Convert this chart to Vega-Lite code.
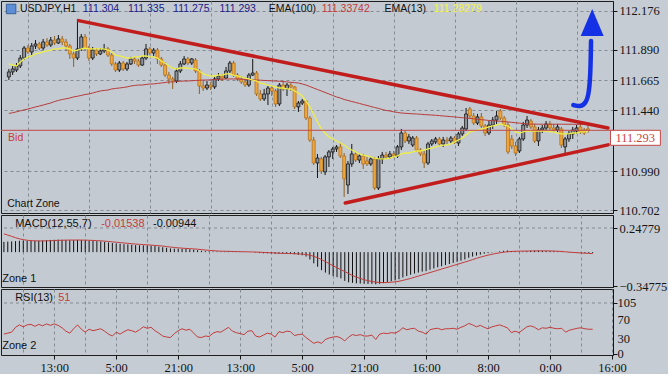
{
  "$schema": "https://vega.github.io/schema/vega-lite/v6.json",
  "padding": 0,
  "background": "#c6ccd3",
  "bounds": "flush",
  "spacing": 2,
  "config": {
    "view": {"stroke": "#1e1e1e", "strokeWidth": 1, "fill": "#c4cad1"},
    "axis": {"labelFont": "Liberation Sans Narrow", "labelFontSize": 12.5, "labelColor": "#141414", "tickColor": "#141414", "domainColor": "#141414", "gridColor": "#858b93", "gridDash": [3, 3], "gridWidth": 1, "tickSize": 4, "labelPadding": 2}
  },
  "datasets": {
    "bars": [
      {"i":0,"o":111.688,"h":111.747,"l":111.665,"c":111.725,"e13":111.784,"e100":111.418,"md":0.105,"sg":0.188,"rsi":41},
      {"i":1,"o":111.725,"h":111.769,"l":111.702,"c":111.747,"e13":111.776,"e100":111.423,"md":0.108,"sg":0.175,"rsi":43},
      {"i":2,"o":111.739,"h":111.791,"l":111.725,"c":111.769,"e13":111.769,"e100":111.430,"md":0.110,"sg":0.162,"rsi":45},
      {"i":3,"o":111.769,"h":111.850,"l":111.754,"c":111.828,"e13":111.799,"e100":111.437,"md":0.113,"sg":0.148,"rsi":55},
      {"i":4,"o":111.828,"h":111.917,"l":111.813,"c":111.902,"e13":111.821,"e100":111.444,"md":0.117,"sg":0.137,"rsi":60},
      {"i":5,"o":111.902,"h":111.924,"l":111.858,"c":111.873,"e13":111.836,"e100":111.451,"md":0.118,"sg":0.128,"rsi":56},
      {"i":6,"o":111.873,"h":111.939,"l":111.850,"c":111.917,"e13":111.843,"e100":111.458,"md":0.118,"sg":0.122,"rsi":60},
      {"i":7,"o":111.917,"h":111.961,"l":111.895,"c":111.932,"e13":111.858,"e100":111.466,"md":0.118,"sg":0.118,"rsi":61},
      {"i":8,"o":111.932,"h":111.947,"l":111.887,"c":111.902,"e13":111.865,"e100":111.473,"md":0.117,"sg":0.116,"rsi":57},
      {"i":9,"o":111.902,"h":111.969,"l":111.887,"c":111.947,"e13":111.873,"e100":111.480,"md":0.118,"sg":0.115,"rsi":61},
      {"i":10,"o":111.947,"h":111.976,"l":111.910,"c":111.924,"e13":111.880,"e100":111.488,"md":0.120,"sg":0.115,"rsi":58},
      {"i":11,"o":111.924,"h":111.984,"l":111.910,"c":111.961,"e13":111.887,"e100":111.495,"md":0.122,"sg":0.116,"rsi":62},
      {"i":12,"o":111.961,"h":111.991,"l":111.924,"c":111.939,"e13":111.895,"e100":111.506,"md":0.125,"sg":0.117,"rsi":59},
      {"i":13,"o":111.939,"h":111.998,"l":111.932,"c":111.969,"e13":111.895,"e100":111.514,"md":0.127,"sg":0.119,"rsi":62},
      {"i":14,"o":111.969,"h":111.991,"l":111.924,"c":111.947,"e13":111.902,"e100":111.521,"md":0.128,"sg":0.121,"rsi":59},
      {"i":15,"o":111.947,"h":111.969,"l":111.880,"c":111.917,"e13":111.902,"e100":111.526,"md":0.127,"sg":0.122,"rsi":54},
      {"i":16,"o":111.917,"h":111.932,"l":111.821,"c":111.858,"e13":111.895,"e100":111.532,"md":0.125,"sg":0.123,"rsi":47},
      {"i":17,"o":111.858,"h":111.887,"l":111.762,"c":111.828,"e13":111.880,"e100":111.540,"md":0.122,"sg":0.124,"rsi":43},
      {"i":18,"o":111.828,"h":112.117,"l":111.813,"c":111.895,"e13":111.887,"e100":111.545,"md":0.123,"sg":0.124,"rsi":52},
      {"i":19,"o":111.895,"h":112.006,"l":111.880,"c":111.984,"e13":111.895,"e100":111.551,"md":0.126,"sg":0.124,"rsi":60},
      {"i":20,"o":111.984,"h":112.006,"l":111.880,"c":111.902,"e13":111.902,"e100":111.558,"md":0.124,"sg":0.124,"rsi":51},
      {"i":21,"o":111.902,"h":111.917,"l":111.806,"c":111.828,"e13":111.895,"e100":111.562,"md":0.120,"sg":0.123,"rsi":45},
      {"i":22,"o":111.828,"h":111.910,"l":111.813,"c":111.887,"e13":111.895,"e100":111.569,"md":0.118,"sg":0.122,"rsi":51},
      {"i":23,"o":111.887,"h":111.902,"l":111.843,"c":111.858,"e13":111.895,"e100":111.577,"md":0.115,"sg":0.120,"rsi":48},
      {"i":24,"o":111.858,"h":111.902,"l":111.850,"c":111.880,"e13":111.895,"e100":111.584,"md":0.112,"sg":0.118,"rsi":50},
      {"i":25,"o":111.880,"h":111.932,"l":111.865,"c":111.895,"e13":111.895,"e100":111.588,"md":0.110,"sg":0.116,"rsi":52},
      {"i":26,"o":111.895,"h":111.910,"l":111.836,"c":111.850,"e13":111.887,"e100":111.591,"md":0.106,"sg":0.113,"rsi":47},
      {"i":27,"o":111.850,"h":111.865,"l":111.769,"c":111.784,"e13":111.873,"e100":111.599,"md":0.100,"sg":0.110,"rsi":41},
      {"i":28,"o":111.784,"h":111.799,"l":111.725,"c":111.739,"e13":111.850,"e100":111.603,"md":0.094,"sg":0.106,"rsi":37},
      {"i":29,"o":111.739,"h":111.806,"l":111.725,"c":111.791,"e13":111.843,"e100":111.606,"md":0.090,"sg":0.102,"rsi":45},
      {"i":30,"o":111.791,"h":111.806,"l":111.732,"c":111.747,"e13":111.836,"e100":111.610,"md":0.086,"sg":0.098,"rsi":41},
      {"i":31,"o":111.747,"h":111.799,"l":111.732,"c":111.784,"e13":111.828,"e100":111.614,"md":0.082,"sg":0.094,"rsi":46},
      {"i":32,"o":111.784,"h":111.836,"l":111.776,"c":111.821,"e13":111.828,"e100":111.621,"md":0.079,"sg":0.090,"rsi":50},
      {"i":33,"o":111.821,"h":111.836,"l":111.784,"c":111.806,"e13":111.836,"e100":111.625,"md":0.076,"sg":0.086,"rsi":48},
      {"i":34,"o":111.806,"h":111.821,"l":111.762,"c":111.776,"e13":111.836,"e100":111.628,"md":0.072,"sg":0.083,"rsi":45},
      {"i":35,"o":111.776,"h":111.843,"l":111.769,"c":111.828,"e13":111.843,"e100":111.628,"md":0.070,"sg":0.080,"rsi":50},
      {"i":36,"o":111.828,"h":111.932,"l":111.813,"c":111.895,"e13":111.843,"e100":111.632,"md":0.070,"sg":0.077,"rsi":56},
      {"i":37,"o":111.895,"h":111.910,"l":111.850,"c":111.865,"e13":111.836,"e100":111.636,"md":0.068,"sg":0.075,"rsi":53},
      {"i":38,"o":111.865,"h":111.902,"l":111.843,"c":111.887,"e13":111.836,"e100":111.636,"md":0.066,"sg":0.072,"rsi":55},
      {"i":39,"o":111.887,"h":111.902,"l":111.784,"c":111.821,"e13":111.828,"e100":111.640,"md":0.062,"sg":0.069,"rsi":48},
      {"i":40,"o":111.821,"h":111.836,"l":111.762,"c":111.776,"e13":111.806,"e100":111.643,"md":0.057,"sg":0.066,"rsi":43},
      {"i":41,"o":111.776,"h":111.799,"l":111.688,"c":111.702,"e13":111.791,"e100":111.647,"md":0.050,"sg":0.062,"rsi":37},
      {"i":42,"o":111.702,"h":111.725,"l":111.636,"c":111.673,"e13":111.769,"e100":111.651,"md":0.044,"sg":0.057,"rsi":35},
      {"i":43,"o":111.673,"h":111.688,"l":111.599,"c":111.658,"e13":111.754,"e100":111.651,"md":0.038,"sg":0.052,"rsi":34},
      {"i":44,"o":111.658,"h":111.754,"l":111.643,"c":111.732,"e13":111.747,"e100":111.654,"md":0.036,"sg":0.048,"rsi":42},
      {"i":45,"o":111.732,"h":111.806,"l":111.717,"c":111.784,"e13":111.754,"e100":111.656,"md":0.035,"sg":0.044,"rsi":48},
      {"i":46,"o":111.784,"h":111.843,"l":111.776,"c":111.821,"e13":111.754,"e100":111.658,"md":0.034,"sg":0.041,"rsi":52},
      {"i":47,"o":111.821,"h":111.836,"l":111.776,"c":111.791,"e13":111.754,"e100":111.658,"md":0.032,"sg":0.038,"rsi":49},
      {"i":48,"o":111.791,"h":111.828,"l":111.776,"c":111.821,"e13":111.747,"e100":111.660,"md":0.030,"sg":0.036,"rsi":51},
      {"i":49,"o":111.813,"h":111.828,"l":111.717,"c":111.732,"e13":111.747,"e100":111.662,"md":0.026,"sg":0.033,"rsi":43},
      {"i":50,"o":111.732,"h":111.747,"l":111.562,"c":111.621,"e13":111.732,"e100":111.663,"md":0.020,"sg":0.030,"rsi":35},
      {"i":51,"o":111.621,"h":111.658,"l":111.584,"c":111.606,"e13":111.710,"e100":111.665,"md":0.014,"sg":0.026,"rsi":34},
      {"i":52,"o":111.606,"h":111.658,"l":111.591,"c":111.628,"e13":111.702,"e100":111.665,"md":0.010,"sg":0.022,"rsi":37},
      {"i":53,"o":111.628,"h":111.651,"l":111.591,"c":111.614,"e13":111.695,"e100":111.667,"md":0.007,"sg":0.018,"rsi":36},
      {"i":54,"o":111.614,"h":111.688,"l":111.599,"c":111.673,"e13":111.695,"e100":111.668,"md":0.006,"sg":0.015,"rsi":43},
      {"i":55,"o":111.673,"h":111.717,"l":111.658,"c":111.695,"e13":111.702,"e100":111.670,"md":0.006,"sg":0.012,"rsi":46},
      {"i":56,"o":111.695,"h":111.710,"l":111.658,"c":111.680,"e13":111.702,"e100":111.671,"md":0.005,"sg":0.010,"rsi":45},
      {"i":57,"o":111.680,"h":111.762,"l":111.673,"c":111.732,"e13":111.710,"e100":111.673,"md":0.006,"sg":0.009,"rsi":50},
      {"i":58,"o":111.732,"h":111.806,"l":111.717,"c":111.791,"e13":111.710,"e100":111.673,"md":0.008,"sg":0.008,"rsi":55},
      {"i":59,"o":111.791,"h":111.806,"l":111.688,"c":111.702,"e13":111.702,"e100":111.673,"md":0.006,"sg":0.007,"rsi":47},
      {"i":60,"o":111.702,"h":111.717,"l":111.658,"c":111.673,"e13":111.695,"e100":111.673,"md":0.004,"sg":0.006,"rsi":44},
      {"i":61,"o":111.673,"h":111.695,"l":111.636,"c":111.651,"e13":111.688,"e100":111.671,"md":0.002,"sg":0.005,"rsi":42},
      {"i":62,"o":111.651,"h":111.680,"l":111.614,"c":111.628,"e13":111.680,"e100":111.670,"md":0.000,"sg":0.004,"rsi":40},
      {"i":63,"o":111.628,"h":111.717,"l":111.614,"c":111.702,"e13":111.673,"e100":111.668,"md":0.000,"sg":0.003,"rsi":47},
      {"i":64,"o":111.702,"h":111.821,"l":111.695,"c":111.717,"e13":111.665,"e100":111.667,"md":0.000,"sg":0.002,"rsi":48},
      {"i":65,"o":111.717,"h":111.732,"l":111.547,"c":111.562,"e13":111.658,"e100":111.665,"md":-0.005,"sg":0.001,"rsi":37},
      {"i":66,"o":111.562,"h":111.591,"l":111.510,"c":111.525,"e13":111.643,"e100":111.664,"md":-0.010,"sg":-0.001,"rsi":35},
      {"i":67,"o":111.525,"h":111.599,"l":111.510,"c":111.562,"e13":111.636,"e100":111.662,"md":-0.012,"sg":-0.003,"rsi":39},
      {"i":68,"o":111.562,"h":111.621,"l":111.480,"c":111.606,"e13":111.628,"e100":111.661,"md":-0.012,"sg":-0.005,"rsi":43},
      {"i":69,"o":111.606,"h":111.621,"l":111.547,"c":111.584,"e13":111.621,"e100":111.659,"md":-0.013,"sg":-0.007,"rsi":41},
      {"i":70,"o":111.584,"h":111.599,"l":111.466,"c":111.488,"e13":111.614,"e100":111.658,"md":-0.018,"sg":-0.009,"rsi":35},
      {"i":71,"o":111.488,"h":111.643,"l":111.473,"c":111.628,"e13":111.606,"e100":111.656,"md":-0.016,"sg":-0.011,"rsi":46},
      {"i":72,"o":111.628,"h":111.658,"l":111.584,"c":111.599,"e13":111.606,"e100":111.654,"md":-0.016,"sg":-0.013,"rsi":44},
      {"i":73,"o":111.599,"h":111.643,"l":111.547,"c":111.628,"e13":111.599,"e100":111.651,"md":-0.015,"sg":-0.014,"rsi":47},
      {"i":74,"o":111.628,"h":111.643,"l":111.584,"c":111.614,"e13":111.599,"e100":111.648,"md":-0.015,"sg":-0.015,"rsi":46},
      {"i":75,"o":111.614,"h":111.621,"l":111.451,"c":111.466,"e13":111.584,"e100":111.646,"md":-0.022,"sg":-0.016,"rsi":38},
      {"i":76,"o":111.466,"h":111.510,"l":111.429,"c":111.495,"e13":111.569,"e100":111.643,"md":-0.028,"sg":-0.018,"rsi":40},
      {"i":77,"o":111.495,"h":111.525,"l":111.480,"c":111.510,"e13":111.547,"e100":111.636,"md":-0.032,"sg":-0.020,"rsi":41},
      {"i":78,"o":111.510,"h":111.517,"l":111.369,"c":111.384,"e13":111.510,"e100":111.628,"md":-0.045,"sg":-0.024,"rsi":34},
      {"i":79,"o":111.384,"h":111.399,"l":111.207,"c":111.221,"e13":111.466,"e100":111.617,"md":-0.075,"sg":-0.031,"rsi":28},
      {"i":80,"o":111.221,"h":111.244,"l":111.036,"c":111.051,"e13":111.414,"e100":111.606,"md":-0.115,"sg":-0.043,"rsi":22},
      {"i":81,"o":111.051,"h":111.118,"l":110.940,"c":111.088,"e13":111.355,"e100":111.595,"md":-0.150,"sg":-0.058,"rsi":25},
      {"i":82,"o":111.081,"h":111.096,"l":110.970,"c":110.992,"e13":111.303,"e100":111.584,"md":-0.185,"sg":-0.076,"rsi":22},
      {"i":83,"o":110.985,"h":111.110,"l":110.962,"c":111.096,"e13":111.273,"e100":111.573,"md":-0.210,"sg":-0.097,"rsi":30},
      {"i":84,"o":111.096,"h":111.147,"l":111.022,"c":111.133,"e13":111.244,"e100":111.562,"md":-0.230,"sg":-0.118,"rsi":33},
      {"i":85,"o":111.133,"h":111.170,"l":111.081,"c":111.155,"e13":111.229,"e100":111.551,"md":-0.245,"sg":-0.140,"rsi":35},
      {"i":86,"o":111.155,"h":111.184,"l":111.133,"c":111.170,"e13":111.214,"e100":111.540,"md":-0.257,"sg":-0.160,"rsi":36},
      {"i":87,"o":111.170,"h":111.199,"l":111.088,"c":111.103,"e13":111.199,"e100":111.532,"md":-0.270,"sg":-0.180,"rsi":33},
      {"i":88,"o":111.103,"h":111.125,"l":110.800,"c":110.933,"e13":111.184,"e100":111.521,"md":-0.295,"sg":-0.200,"rsi":27},
      {"i":89,"o":110.888,"h":111.066,"l":110.822,"c":111.044,"e13":111.162,"e100":111.514,"md":-0.310,"sg":-0.220,"rsi":35},
      {"i":90,"o":111.044,"h":111.192,"l":111.022,"c":111.118,"e13":111.147,"e100":111.506,"md":-0.315,"sg":-0.240,"rsi":40},
      {"i":91,"o":111.118,"h":111.133,"l":111.059,"c":111.073,"e13":111.133,"e100":111.499,"md":-0.320,"sg":-0.256,"rsi":38},
      {"i":92,"o":111.073,"h":111.118,"l":111.051,"c":111.103,"e13":111.118,"e100":111.492,"md":-0.322,"sg":-0.270,"rsi":40},
      {"i":93,"o":111.103,"h":111.118,"l":111.007,"c":111.044,"e13":111.110,"e100":111.484,"md":-0.325,"sg":-0.283,"rsi":37},
      {"i":94,"o":111.066,"h":111.096,"l":111.029,"c":111.044,"e13":111.103,"e100":111.477,"md":-0.326,"sg":-0.293,"rsi":37},
      {"i":95,"o":111.044,"h":111.096,"l":111.029,"c":111.081,"e13":111.096,"e100":111.469,"md":-0.326,"sg":-0.302,"rsi":39},
      {"i":96,"o":111.081,"h":111.096,"l":110.851,"c":110.866,"e13":111.088,"e100":111.462,"md":-0.330,"sg":-0.308,"rsi":30},
      {"i":97,"o":110.866,"h":111.103,"l":110.851,"c":111.081,"e13":111.081,"e100":111.455,"md":-0.325,"sg":-0.312,"rsi":41},
      {"i":98,"o":111.081,"h":111.133,"l":111.044,"c":111.110,"e13":111.081,"e100":111.447,"md":-0.318,"sg":-0.313,"rsi":43},
      {"i":99,"o":111.110,"h":111.133,"l":111.081,"c":111.096,"e13":111.081,"e100":111.440,"md":-0.310,"sg":-0.312,"rsi":42},
      {"i":100,"o":111.096,"h":111.140,"l":111.081,"c":111.118,"e13":111.088,"e100":111.436,"md":-0.300,"sg":-0.309,"rsi":44},
      {"i":101,"o":111.118,"h":111.140,"l":111.088,"c":111.103,"e13":111.096,"e100":111.430,"md":-0.290,"sg":-0.305,"rsi":43},
      {"i":102,"o":111.103,"h":111.184,"l":111.088,"c":111.170,"e13":111.103,"e100":111.425,"md":-0.278,"sg":-0.299,"rsi":47},
      {"i":103,"o":111.170,"h":111.303,"l":111.147,"c":111.273,"e13":111.118,"e100":111.421,"md":-0.260,"sg":-0.290,"rsi":54},
      {"i":104,"o":111.273,"h":111.288,"l":111.199,"c":111.214,"e13":111.125,"e100":111.419,"md":-0.245,"sg":-0.280,"rsi":50},
      {"i":105,"o":111.214,"h":111.266,"l":111.192,"c":111.244,"e13":111.125,"e100":111.417,"md":-0.232,"sg":-0.270,"rsi":52},
      {"i":106,"o":111.184,"h":111.251,"l":111.170,"c":111.236,"e13":111.133,"e100":111.415,"md":-0.220,"sg":-0.258,"rsi":53},
      {"i":107,"o":111.236,"h":111.251,"l":111.133,"c":111.147,"e13":111.140,"e100":111.414,"md":-0.210,"sg":-0.246,"rsi":47},
      {"i":108,"o":111.147,"h":111.162,"l":111.103,"c":111.118,"e13":111.140,"e100":111.412,"md":-0.200,"sg":-0.234,"rsi":45},
      {"i":109,"o":111.118,"h":111.140,"l":111.014,"c":111.051,"e13":111.147,"e100":111.409,"md":-0.195,"sg":-0.222,"rsi":41},
      {"i":110,"o":111.051,"h":111.207,"l":111.036,"c":111.192,"e13":111.155,"e100":111.408,"md":-0.180,"sg":-0.210,"rsi":50},
      {"i":111,"o":111.192,"h":111.229,"l":111.177,"c":111.214,"e13":111.162,"e100":111.406,"md":-0.168,"sg":-0.198,"rsi":52},
      {"i":112,"o":111.207,"h":111.244,"l":111.192,"c":111.229,"e13":111.170,"e100":111.404,"md":-0.155,"sg":-0.186,"rsi":53},
      {"i":113,"o":111.229,"h":111.244,"l":111.177,"c":111.192,"e13":111.177,"e100":111.402,"md":-0.145,"sg":-0.174,"rsi":50},
      {"i":114,"o":111.192,"h":111.244,"l":111.170,"c":111.221,"e13":111.184,"e100":111.399,"md":-0.133,"sg":-0.162,"rsi":52},
      {"i":115,"o":111.221,"h":111.244,"l":111.192,"c":111.214,"e13":111.184,"e100":111.397,"md":-0.122,"sg":-0.150,"rsi":52},
      {"i":116,"o":111.214,"h":111.251,"l":111.199,"c":111.236,"e13":111.192,"e100":111.394,"md":-0.110,"sg":-0.138,"rsi":53},
      {"i":117,"o":111.236,"h":111.251,"l":111.192,"c":111.207,"e13":111.207,"e100":111.392,"md":-0.100,"sg":-0.126,"rsi":51},
      {"i":118,"o":111.199,"h":111.281,"l":111.177,"c":111.266,"e13":111.221,"e100":111.389,"md":-0.088,"sg":-0.114,"rsi":55},
      {"i":119,"o":111.266,"h":111.325,"l":111.251,"c":111.310,"e13":111.236,"e100":111.386,"md":-0.075,"sg":-0.102,"rsi":58},
      {"i":120,"o":111.303,"h":111.458,"l":111.288,"c":111.414,"e13":111.258,"e100":111.384,"md":-0.058,"sg":-0.090,"rsi":63},
      {"i":121,"o":111.451,"h":111.466,"l":111.384,"c":111.399,"e13":111.281,"e100":111.381,"md":-0.045,"sg":-0.077,"rsi":60},
      {"i":122,"o":111.399,"h":111.421,"l":111.332,"c":111.347,"e13":111.288,"e100":111.378,"md":-0.035,"sg":-0.064,"rsi":56},
      {"i":123,"o":111.347,"h":111.414,"l":111.332,"c":111.392,"e13":111.295,"e100":111.375,"md":-0.025,"sg":-0.052,"rsi":59},
      {"i":124,"o":111.392,"h":111.421,"l":111.310,"c":111.325,"e13":111.303,"e100":111.372,"md":-0.016,"sg":-0.041,"rsi":55},
      {"i":125,"o":111.325,"h":111.340,"l":111.251,"c":111.273,"e13":111.310,"e100":111.369,"md":-0.010,"sg":-0.031,"rsi":52},
      {"i":126,"o":111.273,"h":111.362,"l":111.258,"c":111.332,"e13":111.318,"e100":111.366,"md":-0.004,"sg":-0.022,"rsi":56},
      {"i":127,"o":111.332,"h":111.392,"l":111.303,"c":111.369,"e13":111.325,"e100":111.364,"md":0.002,"sg":-0.014,"rsi":58},
      {"i":128,"o":111.369,"h":111.436,"l":111.340,"c":111.399,"e13":111.332,"e100":111.362,"md":0.008,"sg":-0.007,"rsi":60},
      {"i":129,"o":111.436,"h":111.451,"l":111.369,"c":111.384,"e13":111.340,"e100":111.360,"md":0.014,"sg":-0.001,"rsi":57},
      {"i":130,"o":111.384,"h":111.399,"l":111.318,"c":111.332,"e13":111.332,"e100":111.358,"md":0.017,"sg":0.004,"rsi":54},
      {"i":131,"o":111.332,"h":111.355,"l":111.118,"c":111.133,"e13":111.325,"e100":111.355,"md":0.012,"sg":0.007,"rsi":44},
      {"i":132,"o":111.229,"h":111.258,"l":111.155,"c":111.177,"e13":111.303,"e100":111.352,"md":0.010,"sg":0.009,"rsi":47},
      {"i":133,"o":111.177,"h":111.207,"l":111.103,"c":111.125,"e13":111.281,"e100":111.349,"md":0.006,"sg":0.010,"rsi":44},
      {"i":134,"o":111.140,"h":111.244,"l":111.125,"c":111.229,"e13":111.273,"e100":111.346,"md":0.007,"sg":0.011,"rsi":50},
      {"i":135,"o":111.229,"h":111.355,"l":111.214,"c":111.332,"e13":111.281,"e100":111.343,"md":0.011,"sg":0.011,"rsi":56},
      {"i":136,"o":111.332,"h":111.399,"l":111.310,"c":111.369,"e13":111.288,"e100":111.340,"md":0.015,"sg":0.012,"rsi":58},
      {"i":137,"o":111.362,"h":111.377,"l":111.303,"c":111.318,"e13":111.288,"e100":111.339,"md":0.016,"sg":0.012,"rsi":55},
      {"i":138,"o":111.318,"h":111.340,"l":111.199,"c":111.214,"e13":111.288,"e100":111.339,"md":0.016,"sg":0.013,"rsi":50},
      {"i":139,"o":111.214,"h":111.318,"l":111.177,"c":111.295,"e13":111.288,"e100":111.338,"md":0.014,"sg":0.013,"rsi":54},
      {"i":140,"o":111.295,"h":111.332,"l":111.273,"c":111.310,"e13":111.288,"e100":111.338,"md":0.013,"sg":0.013,"rsi":53},
      {"i":141,"o":111.310,"h":111.362,"l":111.288,"c":111.340,"e13":111.288,"e100":111.338,"md":0.012,"sg":0.012,"rsi":55},
      {"i":142,"o":111.340,"h":111.362,"l":111.295,"c":111.310,"e13":111.281,"e100":111.338,"md":0.011,"sg":0.011,"rsi":53},
      {"i":143,"o":111.310,"h":111.340,"l":111.281,"c":111.295,"e13":111.281,"e100":111.338,"md":0.009,"sg":0.009,"rsi":52},
      {"i":144,"o":111.295,"h":111.340,"l":111.281,"c":111.318,"e13":111.273,"e100":111.338,"md":0.007,"sg":0.007,"rsi":53},
      {"i":145,"o":111.303,"h":111.318,"l":111.162,"c":111.184,"e13":111.266,"e100":111.338,"md":0.000,"sg":0.003,"rsi":45},
      {"i":146,"o":111.170,"h":111.244,"l":111.125,"c":111.229,"e13":111.266,"e100":111.338,"md":-0.004,"sg":0.000,"rsi":49},
      {"i":147,"o":111.229,"h":111.288,"l":111.207,"c":111.266,"e13":111.266,"e100":111.338,"md":-0.006,"sg":-0.003,"rsi":51},
      {"i":148,"o":111.266,"h":111.318,"l":111.229,"c":111.295,"e13":111.273,"e100":111.338,"md":-0.007,"sg":-0.006,"rsi":53},
      {"i":149,"o":111.288,"h":111.332,"l":111.266,"c":111.310,"e13":111.273,"e100":111.337,"md":-0.008,"sg":-0.009,"rsi":54},
      {"i":150,"o":111.318,"h":111.340,"l":111.266,"c":111.281,"e13":111.281,"e100":111.337,"md":-0.009,"sg":-0.011,"rsi":52},
      {"i":151,"o":111.295,"h":111.310,"l":111.258,"c":111.273,"e13":111.281,"e100":111.337,"md":-0.009,"sg":-0.013,"rsi":51},
      {"i":152,"o":111.304,"h":111.335,"l":111.275,"c":111.293,"e13":111.283,"e100":111.337,"md":-0.00944,"sg":-0.01538,"rsi":51}
    ],
    "trend": [
      {"line":"upper","i":18.3,"p":112.105},
      {"line":"upper","i":157.25,"p":111.31},
      {"line":"lower","i":88.3,"p":110.755},
      {"line":"lower","i":157.25,"p":111.185}
    ],
    "arrow": [
      {"i":148.15,"p":111.48},
      {"i":149.96,"p":111.466},
      {"i":151.5,"p":111.495},
      {"i":152.28,"p":111.569},
      {"i":152.67,"p":111.732},
      {"i":152.8,"p":111.954}
    ],
    "arrowHead": [{"i":153.1,"p":112.091}],
    "icon": [{"i":0.6,"v":112.191}],
    "mainLabels": [
      {"t":"USDJPY,H1","i":2.9,"v":112.191,"k":"name"},
      {"t":"111.304","i":19.4,"v":112.191,"k":"ohlc"},
      {"t":"111.335","i":31.3,"v":112.191,"k":"ohlc"},
      {"t":"111.275","i":43.1,"v":112.191,"k":"ohlc"},
      {"t":"111.293","i":55.3,"v":112.191,"k":"ohlc"},
      {"t":"EMA(100)","i":68.2,"v":112.191,"k":"name"},
      {"t":"111.33742","i":82.1,"v":112.191,"k":"ema100"},
      {"t":"EMA(13)","i":98.6,"v":112.191,"k":"name"},
      {"t":"111.28279","i":111.5,"v":112.191,"k":"ema13"},
      {"t":"Bid","i":-0.2,"v":111.236,"k":"bid"},
      {"t":"Chart Zone","i":-0.45,"v":110.748,"k":"name"}
    ],
    "macdLabels": [
      {"t":"MACD(12,55,7)","i":2.9,"v":0.289,"k":"name"},
      {"t":"-0.01538","i":25.1,"v":0.289,"k":"bid"},
      {"t":"-0.00944","i":38.5,"v":0.289,"k":"name"},
      {"t":"Zone 1","i":-0.45,"v":-0.276,"k":"name"}
    ],
    "rsiLabels": [
      {"t":"RSI(13)","i":2.9,"v":115.3,"k":"name"},
      {"t":"51","i":14,"v":115.3,"k":"bid"},
      {"t":"Zone 2","i":-0.45,"v":16.5,"k":"name"}
    ],
    "timeTicks": [
      {"i":13,"t":"13:00"},{"i":29,"t":"5:00"},{"i":45,"t":"21:00"},{"i":61,"t":"13:00"},{"i":77,"t":"5:00"},
      {"i":93,"t":"21:00"},{"i":109,"t":"16:00"},{"i":125,"t":"8:00"},{"i":141,"t":"0:00"},{"i":157,"t":"16:00"}
    ],
    "rsiScale": [{"level":105},{"level":70},{"level":30},{"level":0}],
    "rsiLevel": [{"level":105}],
    "bid": [{"bid":111.293,"t":"111.293"}]
  },
  "vconcat": [
    {
      "width": 612,
      "height": 212,
      "layer": [
        {
          "data": {"name": "bars"},
          "mark": {"type": "rule", "strokeWidth": 1},
          "encoding": {
            "x": {"field": "i", "type": "quantitative", "title": null, "scale": {"domain": [-0.75, 157.25], "nice": false, "zero": false},
                  "axis": {"values": [5,13,21,29,37,45,53,61,69,77,85,93,101,109,117,125,133,141,149,157], "labels": false, "ticks": false, "domain": false, "grid": true}},
            "y": {"field": "l", "type": "quantitative", "title": null, "scale": {"domain": [110.681, 112.25], "nice": false, "zero": false},
                  "axis": {"orient": "right", "values": [112.176, 111.89, 111.665, 111.44, 110.99, 110.702], "format": ".3f", "grid": true, "labelOverlap": false}},
            "y2": {"field": "h"},
            "color": {"condition": {"test": "datum.c >= datum.o", "value": "#151515"}, "value": "#8f5e1e"}
          }
        },
        {
          "data": {"name": "bars"},
          "mark": {"type": "bar", "size": 3, "strokeWidth": 0.8},
          "encoding": {
            "x": {"field": "i", "type": "quantitative", "title": null},
            "y": {"field": "o", "type": "quantitative", "title": null},
            "y2": {"field": "c"},
            "fill": {"condition": {"test": "datum.c >= datum.o", "value": "#8e949b"}, "value": "#efa53a"},
            "stroke": {"condition": {"test": "datum.c >= datum.o", "value": "#151515"}, "value": "#b57420"}
          }
        },
        {
          "data": {"name": "bars"},
          "mark": {"type": "line", "color": "#b83c3c", "strokeWidth": 1},
          "encoding": {
            "x": {"field": "i", "type": "quantitative", "title": null},
            "y": {"field": "e100", "type": "quantitative", "title": null}
          }
        },
        {
          "data": {"name": "bars"},
          "mark": {"type": "line", "color": "#eeee48", "strokeWidth": 1.3},
          "encoding": {
            "x": {"field": "i", "type": "quantitative", "title": null},
            "y": {"field": "e13", "type": "quantitative", "title": null}
          }
        },
        {
          "data": {"name": "bid"},
          "mark": {"type": "rule", "color": "#c44848", "strokeWidth": 1},
          "encoding": {
            "y": {"field": "bid", "type": "quantitative", "title": null}
          }
        },
        {
          "data": {"name": "trend"},
          "mark": {"type": "line", "color": "#c21d1d", "strokeWidth": 3.5, "strokeCap": "round"},
          "encoding": {
            "x": {"field": "i", "type": "quantitative", "title": null},
            "y": {"field": "p", "type": "quantitative", "title": null},
            "detail": {"field": "line"}
          }
        },
        {
          "data": {"name": "arrow"},
          "mark": {"type": "line", "color": "#1431e6", "strokeWidth": 4.5, "interpolate": "basis", "strokeCap": "round"},
          "encoding": {
            "x": {"field": "i", "type": "quantitative", "title": null},
            "y": {"field": "p", "type": "quantitative", "title": null}
          }
        },
        {
          "data": {"name": "arrowHead"},
          "mark": {"type": "point", "shape": "M0,-1L-0.85,1L0.85,1Z", "size": 729, "filled": true, "color": "#1431e6", "opacity": 1},
          "encoding": {
            "x": {"field": "i", "type": "quantitative", "title": null},
            "y": {"field": "p", "type": "quantitative", "title": null}
          }
        },
        {
          "data": {"name": "icon"},
          "mark": {"type": "square", "size": 90, "color": "#5d8fd6", "opacity": 1, "stroke": "#2a4f8a", "strokeWidth": 0.8},
          "encoding": {
            "x": {"field": "i", "type": "quantitative", "title": null},
            "y": {"field": "v", "type": "quantitative", "title": null}
          }
        },
        {
          "data": {"name": "mainLabels"},
          "mark": {"type": "text", "align": "left", "baseline": "middle", "font": "Liberation Sans", "fontSize": 10.5},
          "encoding": {
            "x": {"field": "i", "type": "quantitative", "title": null},
            "y": {"field": "v", "type": "quantitative", "title": null},
            "text": {"field": "t"},
            "color": {"field": "k", "type": "nominal", "legend": null, "scale": {"domain": ["name", "ohlc", "ema100", "ema13", "bid"], "range": ["#111111", "#20208a", "#c43c3c", "#f4f452", "#c43c3c"]}}
          }
        },
        {
          "data": {"name": "bid"},
          "mark": {"type": "rect", "fill": "#ffffff", "stroke": "#c44848", "strokeWidth": 1},
          "encoding": {
            "x": {"datum": 157.9},
            "x2": {"datum": 171},
            "y": {"field": "bid", "type": "quantitative", "title": null},
            "y2": {"datum": 111.182}
          }
        },
        {
          "data": {"name": "bid"},
          "mark": {"type": "text", "color": "#c44848", "font": "Liberation Sans Narrow", "fontSize": 12.5, "align": "center", "baseline": "middle"},
          "encoding": {
            "x": {"datum": 164.4},
            "y": {"datum": 111.237},
            "text": {"field": "t"}
          }
        }
      ]
    },
    {
      "width": 612,
      "height": 72,
      "layer": [
        {
          "data": {"name": "bars"},
          "mark": {"type": "rule", "color": "#111111", "strokeWidth": 1},
          "encoding": {
            "x": {"field": "i", "type": "quantitative", "title": null, "scale": {"domain": [-0.75, 157.25], "nice": false, "zero": false},
                  "axis": {"values": [5,13,21,29,37,45,53,61,69,77,85,93,101,109,117,125,133,141,149,157], "labels": false, "ticks": false, "domain": false, "grid": true}},
            "y": {"field": "md", "type": "quantitative", "title": null, "scale": {"domain": [-0.358, 0.3813], "nice": false, "zero": false},
                  "axis": {"orient": "right", "values": [0.24779, -0.34775], "format": ".5f", "grid": false, "labelOverlap": false}},
            "y2": {"datum": 0}
          }
        },
        {
          "data": {"values": [{"level": 0.24779}]},
          "mark": {"type": "rule", "color": "#858b93", "strokeDash": [3, 3], "strokeWidth": 1},
          "encoding": {
            "y": {"field": "level", "type": "quantitative", "title": null}
          }
        },
        {
          "data": {"name": "bars"},
          "mark": {"type": "line", "color": "#c23c3c", "strokeWidth": 1},
          "encoding": {
            "x": {"field": "i", "type": "quantitative", "title": null},
            "y": {"field": "sg", "type": "quantitative", "title": null}
          }
        },
        {
          "data": {"name": "macdLabels"},
          "mark": {"type": "text", "align": "left", "baseline": "middle", "font": "Liberation Sans", "fontSize": 11},
          "encoding": {
            "x": {"field": "i", "type": "quantitative", "title": null},
            "y": {"field": "v", "type": "quantitative", "title": null},
            "text": {"field": "t"},
            "color": {"field": "k", "type": "nominal", "legend": null, "scale": {"domain": ["name", "bid"], "range": ["#111111", "#c43c3c"]}}
          }
        }
      ]
    },
    {
      "width": 612,
      "height": 66,
      "resolve": {"axis": {"x": "independent"}},
      "layer": [
        {
          "data": {"name": "bars"},
          "mark": {"type": "line", "color": "#c23c3c", "strokeWidth": 1},
          "encoding": {
            "x": {"field": "i", "type": "quantitative", "title": null, "scale": {"domain": [-0.75, 157.25], "nice": false, "zero": false},
                  "axis": {"orient": "bottom", "values": [5,13,21,29,37,45,53,61,69,77,85,93,101,109,117,125,133,141,149,157], "labels": false, "ticks": false, "domain": false, "grid": true}},
            "y": {"field": "rsi", "type": "quantitative", "title": null, "scale": {"domain": [-2, 133.8], "nice": false, "zero": false},
                  "axis": {"orient": "right", "values": [105, 70, 30, 0], "grid": false, "labels": false}}
          }
        },
        {
          "data": {"name": "rsiLevel"},
          "mark": {"type": "rule", "color": "#858b93", "strokeDash": [3, 3], "strokeWidth": 1},
          "encoding": {
            "y": {"field": "level", "type": "quantitative", "title": null}
          }
        },
        {
          "data": {"name": "rsiScale"},
          "mark": {"type": "text", "align": "left", "baseline": "middle", "font": "Liberation Sans Narrow", "fontSize": 12.5, "color": "#141414"},
          "encoding": {
            "x": {"datum": 158.4, "axis": null},
            "y": {"field": "level", "type": "quantitative", "title": null},
            "text": {"field": "level"}
          }
        },
        {
          "data": {"name": "timeTicks"},
          "mark": {"type": "tick", "opacity": 0},
          "encoding": {
            "x": {"field": "i", "type": "quantitative", "title": null,
                  "axis": {"orient": "bottom", "values": [13,29,45,61,77,93,109,125,141,157], "grid": false, "domain": false, "labelOverlap": false, "labelFlush": false,
                           "labelExpr": "['13:00','5:00','21:00','13:00','5:00','21:00','16:00','8:00','0:00','16:00'][round((datum.value - 13) / 16)]"}}
          }
        },
        {
          "data": {"name": "rsiLabels"},
          "mark": {"type": "text", "align": "left", "baseline": "middle", "font": "Liberation Sans", "fontSize": 11},
          "encoding": {
            "x": {"field": "i", "type": "quantitative", "title": null, "axis": null},
            "y": {"field": "v", "type": "quantitative", "title": null},
            "text": {"field": "t"},
            "color": {"field": "k", "type": "nominal", "legend": null, "scale": {"domain": ["name", "bid"], "range": ["#111111", "#c43c3c"]}}
          }
        }
      ]
    }
  ]
}
